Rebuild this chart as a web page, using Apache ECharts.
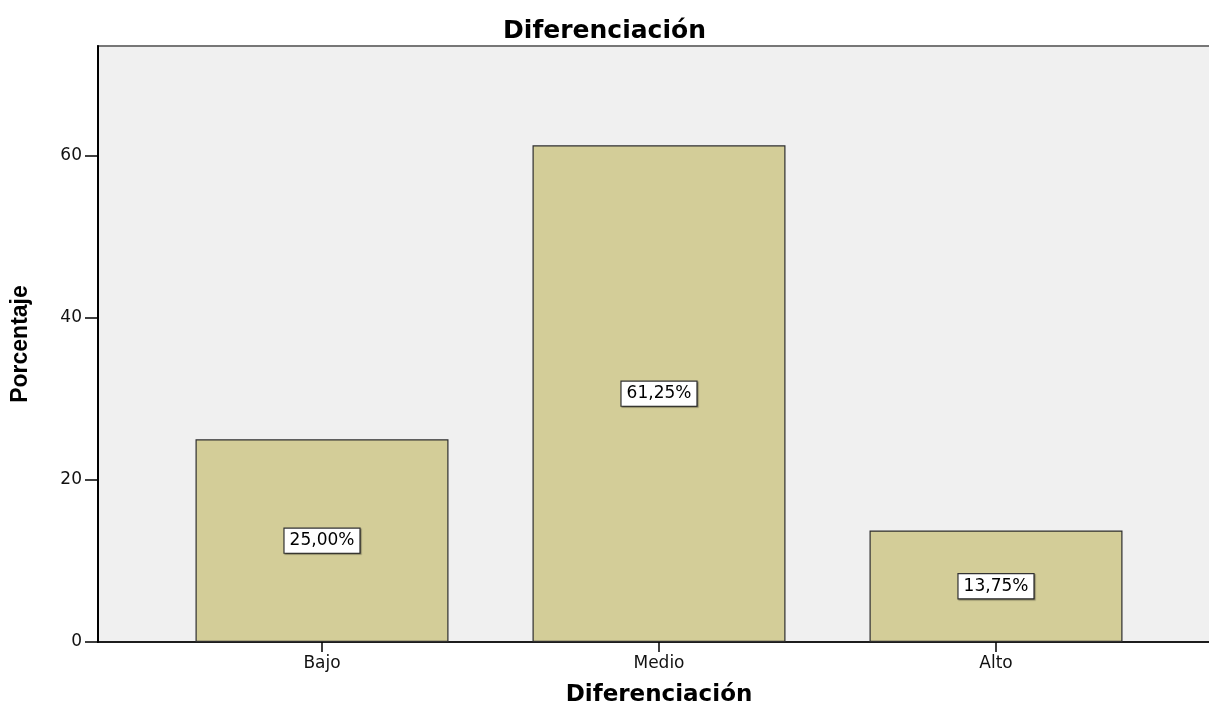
<!DOCTYPE html>
<html>
<head>
<meta charset="utf-8">
<title>Diferenciación</title>
<script src="https://cdn.jsdelivr.net/npm/echarts@6/dist/echarts.min.js"></script>
<style>
  html, body { margin: 0; padding: 0; background: #ffffff; }
  #chart { width: 1209px; height: 707px; }
</style>
</head>
<body>
<div id="chart"></div>
<script>
// Porcentaje por nivel de diferenciación
const categories = ['Bajo', 'Medio', 'Alto'];
const percentages = [25.00, 61.25, 13.75];
const yTicks = [0, 20, 40, 60];
const yMax = 73.5;

const chart = echarts.init(document.getElementById('chart'));

const plotTop = 46;
const plotHeight = 596;

chart.setOption({
  animation: false,
  backgroundColor: '#ffffff',
  title: {
    text: 'Diferenciación',
    left: 'center',
    top: 14,
    textStyle: {
      fontFamily: 'DejaVu Sans',
      fontWeight: 'bold',
      fontSize: 25,
      color: '#000000'
    }
  },
  grid: [
    // frame with the grey plot area and the value axis
    {
      left: 98, top: plotTop, width: 1140, height: plotHeight,
      outerBoundsMode: 'none',
      containLabel: false,
      show: true,
      backgroundColor: '#f0f0f0',
      borderColor: '#777777',
      borderWidth: 2
    },
    // band area holding the bars
    {
      left: 153.5, top: plotTop, width: 1011, height: plotHeight,
      outerBoundsMode: 'none',
      containLabel: false
    }
  ],
  xAxis: [
    {
      gridIndex: 0,
      type: 'value',
      min: 0, max: 1,
      axisLine: { show: true, lineStyle: { color: '#000000', width: 1.5 } },
      axisTick: { show: false },
      axisLabel: { show: false },
      splitLine: { show: false }
    },
    {
      gridIndex: 1,
      type: 'category',
      data: categories,
      boundaryGap: true,
      name: 'Diferenciación',
      nameLocation: 'middle',
      nameGap: 42,
      nameTextStyle: {
        fontFamily: 'DejaVu Sans',
        fontWeight: 'bold',
        fontSize: 23,
        color: '#000000'
      },
      axisLine: { show: false },
      axisTick: {
        show: true,
        alignWithLabel: true,
        length: 10,
        lineStyle: { color: '#000000', width: 1.5 }
      },
      axisLabel: {
        margin: 13,
        fontFamily: 'DejaVu Sans',
        fontSize: 17,
        color: '#111111'
      },
      splitLine: { show: false }
    }
  ],
  yAxis: [
    {
      gridIndex: 0,
      type: 'value',
      min: 0,
      max: yMax,
      name: 'Porcentaje',
      nameLocation: 'middle',
      nameGap: 66,
      nameRotate: 90,
      nameTextStyle: {
        fontFamily: 'Liberation Sans',
        fontWeight: 'bold',
        fontSize: 23,
        color: '#000000'
      },
      axisLine: { show: true, onZero: false, lineStyle: { color: '#000000', width: 2 } },
      axisTick: {
        show: true,
        length: 13,
        customValues: yTicks,
        lineStyle: { color: '#000000', width: 1.5 }
      },
      axisLabel: {
        margin: 16,
        customValues: yTicks,
        fontFamily: 'DejaVu Sans',
        fontSize: 17,
        color: '#111111'
      },
      splitLine: { show: false }
    },
    {
      gridIndex: 1,
      type: 'value',
      min: 0,
      max: yMax,
      show: false,
      splitLine: { show: false }
    }
  ],
  series: [
    {
      type: 'bar',
      xAxisIndex: 1,
      yAxisIndex: 1,
      data: percentages,
      barWidth: 253,
      itemStyle: {
        color: '#d3cd98',
        borderColor: '#2e2e2e',
        borderWidth: 1.2
      },
      label: {
        show: true,
        position: 'inside',
        formatter: p => p.value.toFixed(2).replace('.', ',') + '%',
        fontFamily: 'DejaVu Sans',
        fontSize: 17,
        color: '#000000',
        backgroundColor: '#ffffff',
        borderColor: '#333333',
        borderWidth: 1.2,
        padding: [4, 5, 3, 5],
        shadowColor: 'rgba(0,0,0,0.35)',
        shadowOffsetX: 1,
        shadowOffsetY: 1,
        shadowBlur: 1
      }
    }
  ]
});
</script>
</body>
</html>
